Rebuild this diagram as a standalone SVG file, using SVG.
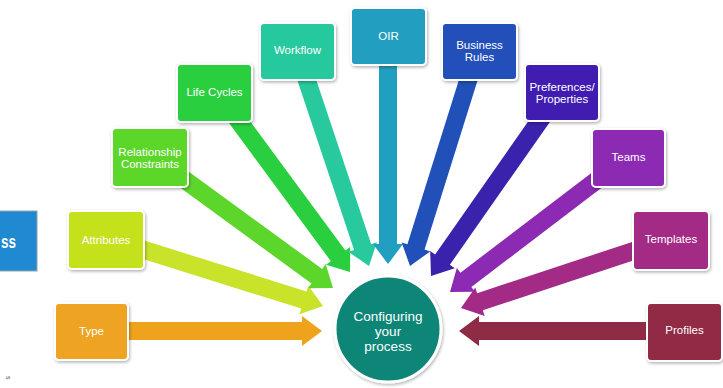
<svg xmlns="http://www.w3.org/2000/svg" width="723" height="388" viewBox="0 0 723 388">
<defs>
<filter id="sh" x="-20%" y="-20%" width="140%" height="140%">
<feDropShadow dx="1" dy="1.5" stdDeviation="1.5" flood-color="#000" flood-opacity="0.3"/>
</filter>
</defs>
<style>
.box{stroke:#fff;stroke-width:2;filter:url(#sh)}
.lbl{font-family:"Liberation Sans",Arial,sans-serif;font-size:11.5px;fill:#fff;text-anchor:middle;dominant-baseline:central}
.ctr{font-family:"Liberation Sans",Arial,sans-serif;font-size:13.5px;fill:#fff;text-anchor:middle;dominant-baseline:central}
</style>
<rect width="723" height="388" fill="#fff"/>

<g id="partial">
<rect x="-2" y="211" width="39" height="60" fill="#1F8AD2" stroke="#9aa3ab" stroke-width="1"/>
<text x="1" y="248" font-family="Liberation Sans,Arial,sans-serif" font-size="19" font-weight="bold" fill="#fff" textLength="15" lengthAdjust="spacingAndGlyphs">ss</text>
<text transform="translate(6,376) rotate(90)" font-family="Liberation Sans,Arial,sans-serif" font-size="7" fill="#555">s</text>
</g>

<g id="connectors">
<polygon transform="translate(322,331) rotate(0)" points="-200,-9 -20,-9 -20,-15 0,0 -20,15 -20,9 -200,9" fill="#EFA21C"/>
<polygon transform="translate(323,306) rotate(17.4)" points="-195,-9 -20,-9 -20,-15 0,0 -20,15 -20,9 -195,9" fill="#C8E32A"/>
<polygon transform="translate(333,288) rotate(36.1)" points="-193,-9 -20,-9 -20,-15 0,0 -20,15 -20,9 -193,9" fill="#5DD62C"/>
<polygon transform="translate(350,272) rotate(53.6)" points="-196,-9 -20,-9 -20,-15 0,0 -20,15 -20,9 -196,9" fill="#2ACF3F"/>
<polygon transform="translate(369,266) rotate(71.5)" points="-206,-9 -20,-9 -20,-15 0,0 -20,15 -20,9 -206,9" fill="#27C99D"/>
<polygon transform="translate(388,264) rotate(90)" points="-210,-9 -20,-9 -20,-15 0,0 -20,15 -20,9 -210,9" fill="#209FC0"/>
<polygon transform="translate(410,266) rotate(107.4)" points="-205,-9 -20,-9 -20,-15 0,0 -20,15 -20,9 -205,9" fill="#2150B9"/>
<polygon transform="translate(431,276) rotate(125)" points="-199,-9 -20,-9 -20,-15 0,0 -20,15 -20,9 -199,9" fill="#3A22AC"/>
<polygon transform="translate(450,292) rotate(142.7)" points="-192,-9 -20,-9 -20,-15 0,0 -20,15 -20,9 -192,9" fill="#8D2AB3"/>
<polygon transform="translate(461,308) rotate(161.7)" points="-192,-9 -20,-9 -20,-15 0,0 -20,15 -20,9 -192,9" fill="#A32A85"/>
<polygon transform="translate(459,331) rotate(180)" points="-198,-9 -20,-9 -20,-15 0,0 -20,15 -20,9 -198,9" fill="#902B45"/>
</g>

<g id="center">
<circle cx="388" cy="329" r="53" fill="#0D8577" stroke="#fff" stroke-width="3" filter="url(#sh)"/>
<text class="ctr" x="388" y="316">Configuring</text>
<text class="ctr" x="388" y="331">your</text>
<text class="ctr" x="388" y="346">process</text>
</g>

<g id="type"><rect class="box" x="55" y="303" width="73" height="57" rx="4" fill="#EEA320"/><text class="lbl" x="91.5" y="331">Type</text></g>
<g id="attributes"><rect class="box" x="68" y="211" width="76" height="58" rx="4" fill="#C5E11E"/><text class="lbl" x="106" y="240">Attributes</text></g>
<g id="relationship"><rect class="box" x="112" y="128" width="76" height="59" rx="4" fill="#5DD62C"/><text class="lbl" x="150" y="152">Relationship</text><text class="lbl" x="150" y="164">Constraints</text></g>
<g id="lifecycles"><rect class="box" x="177" y="64" width="75" height="58" rx="4" fill="#2ACF3F"/><text class="lbl" x="214.5" y="92">Life Cycles</text></g>
<g id="workflow"><rect class="box" x="260" y="23" width="75" height="57" rx="4" fill="#27C99D"/><text class="lbl" x="297.5" y="50">Workflow</text></g>
<g id="oir"><rect class="box" x="351" y="8" width="75" height="57" rx="4" fill="#209FC0"/><text class="lbl" x="388.5" y="36">OIR</text></g>
<g id="businessrules"><rect class="box" x="442" y="23" width="75" height="57" rx="4" fill="#2150B9"/><text class="lbl" x="479.5" y="45">Business</text><text class="lbl" x="479.5" y="57">Rules</text></g>
<g id="preferences"><rect class="box" x="525" y="64" width="74" height="57" rx="4" fill="#3F1FB0"/><text class="lbl" x="562" y="87">Preferences/</text><text class="lbl" x="562" y="99">Properties</text></g>
<g id="teams"><rect class="box" x="592" y="129" width="73" height="58" rx="4" fill="#8D2AB3"/><text class="lbl" x="628.5" y="157">Teams</text></g>
<g id="templates"><rect class="box" x="633" y="211" width="76" height="59" rx="4" fill="#A32A85"/><text class="lbl" x="671" y="239">Templates</text></g>
<g id="profiles"><rect class="box" x="647" y="303" width="75" height="58" rx="4" fill="#902B45"/><text class="lbl" x="684.5" y="330">Profiles</text></g>
</svg>
